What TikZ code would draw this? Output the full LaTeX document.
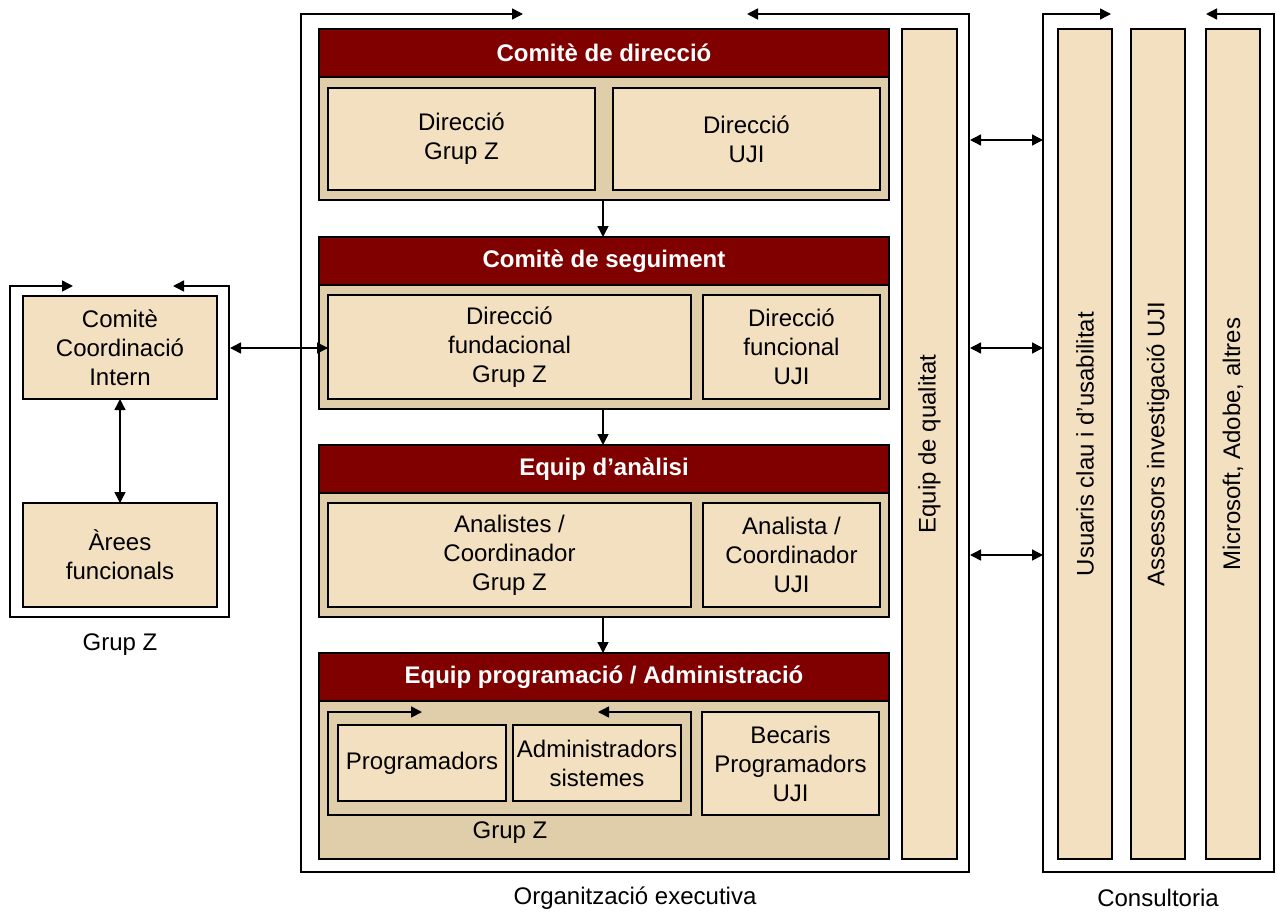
\documentclass[tikz,border=0pt]{standalone}
\usepackage{fontspec}
\setmainfont{Liberation Sans}
\usetikzlibrary{arrows.meta}
\definecolor{hdr}{HTML}{800000}
\definecolor{bodyc}{HTML}{E0CDA9}
\definecolor{innerc}{HTML}{F3E0C0}
\begin{document}
\begin{tikzpicture}[x=1pt,y=-1pt,
  font=\fontsize{24}{29}\selectfont,
  every node/.style={inner sep=0pt, outer sep=0pt},
  hdrbox/.style={draw=black, line width=1.5pt, fill=hdr, text=white,
     font=\fontsize{24}{29}\selectfont\bfseries, minimum width=570pt, minimum height=48pt},
  bodybox/.style={draw=black, line width=1.5pt, fill=bodyc, minimum width=570pt},
  ibox/.style={draw=black, line width=1.5pt, fill=innerc, align=center},
  vbox/.style={draw=black, line width=1.5pt, fill=innerc, rotate=90, minimum width=830pt},
  lbl/.style={align=center},
  tip/.tip={Triangle[length=11pt,width=11pt]},
  arr/.style={-tip, line width=1.5pt},
  dbl/.style={tip-tip, line width=1.5pt},
  brk/.style={line width=1.5pt}
]
\fill[white] (0,0) rectangle (1277,913);
\useasboundingbox (0,0) rectangle (1277,913);

% ---------- Organitzacio executiva bracket ----------
\coordinate (oeA) at (523,14);
\coordinate (oeTL) at (301,14);
\coordinate (oeBL) at (301,872);
\coordinate (oeBR) at (969,872);
\coordinate (oeTR) at (969,14);
\coordinate (oeB) at (747,14);
\draw[dbl] (oeA) -- (oeTL) -- (oeBL) -- (oeBR) -- (oeTR) -- (oeB);
\node[lbl] (oelabel) at (635,898) {Organització executiva};

% ---------- Comite de direccio ----------
\node[bodybox, minimum height=123pt] (body1) at (604,138.5) {};
\node[hdrbox] (h1) at (604,53) {Comitè de direcció};
\node[ibox, minimum width=267pt, minimum height=102pt] (dgz) at (461.5,139) {Direcció\\Grup Z};
\node[ibox, minimum width=267pt, minimum height=102pt] (duji) at (746.5,139) {Direcció\\UJI};

% ---------- Comite de seguiment ----------
\node[bodybox, minimum height=124pt] (body2) at (604,347) {};
\node[hdrbox] (h2) at (604,261) {Comitè de seguiment};
\node[ibox, minimum width=363pt, minimum height=104pt] (dfund) at (509.5,347) {Direcció\\fundacional\\Grup Z};
\node[ibox, minimum width=177pt, minimum height=104pt] (dfunc) at (791.5,347) {Direcció\\funcional\\UJI};

% ---------- Equip d'analisi ----------
\node[bodybox, minimum height=124pt] (body3) at (604,555) {};
\node[hdrbox] (h3) at (604,469) {Equip d’anàlisi};
\node[ibox, minimum width=363pt, minimum height=104pt] (angz) at (509.5,555) {Analistes /\\Coordinador\\Grup Z};
\node[ibox, minimum width=177pt, minimum height=104pt] (anuji) at (791.5,555) {Analista /\\Coordinador\\UJI};

% ---------- Equip programacio ----------
\node[bodybox, minimum height=158pt] (body4) at (604,780) {};
\node[hdrbox] (h4) at (604,677) {Equip programació / Administració};
\coordinate (gzA) at (422,712);
\coordinate (gzTL) at (328,712);
\coordinate (gzBL) at (328,815);
\coordinate (gzBR) at (691,815);
\coordinate (gzTR) at (691,712);
\coordinate (gzB) at (598,712);
\draw[dbl] (gzA) -- (gzTL) -- (gzBL) -- (gzBR) -- (gzTR) -- (gzB);
\node[ibox, minimum width=168pt, minimum height=76pt] (prog) at (422,763) {Programadors};
\node[ibox, minimum width=168pt, minimum height=76pt] (adm) at (597,763) {Administradors\\sistemes};
\node[ibox, minimum width=177pt, minimum height=103pt] (bec) at (790.5,763.5) {Becaris\\Programadors\\UJI};
\node[lbl] (gzlabel) at (510,833) {Grup Z};

% vertical flow arrows
\draw[arr] (body1.south -| 603,0) -- (h2.north -| 603,0);
\draw[arr] (body2.south -| 603,0) -- (h3.north -| 603,0);
\draw[arr] (body3.south -| 603,0) -- (h4.north -| 603,0);

% ---------- Equip de qualitat ----------
\node[vbox, minimum height=55pt] (qual) at (929.5,444) {Equip de qualitat};

% ---------- Consultoria ----------
\coordinate (coA) at (1111,14);
\coordinate (coTL) at (1043,14);
\coordinate (coBL) at (1043,872);
\coordinate (coBR) at (1274,872);
\coordinate (coTR) at (1274,14);
\coordinate (coB) at (1206,14);
\draw[dbl] (coA) -- (coTL) -- (coBL) -- (coBR) -- (coTR) -- (coB);
\node[vbox, minimum height=54pt] (usu) at (1085,444) {Usuaris clau i d’usabilitat};
\node[vbox, minimum height=54pt] (ass) at (1158,444) {Assessors investigació UJI};
\node[vbox, minimum height=54pt] (mic) at (1233,444) {Microsoft, Adobe, altres};
\node[lbl] (colabel) at (1158,898) {Consultoria};

% arrows between executive and consultoria
\coordinate (r1a) at (970,140); \coordinate (r1b) at (1043,140);
\coordinate (r2a) at (970,348); \coordinate (r2b) at (1043,348);
\coordinate (r3a) at (970,555); \coordinate (r3b) at (1043,555);
\draw[dbl] (r1a) -- (r1b);
\draw[dbl] (r2a) -- (r2b);
\draw[dbl] (r3a) -- (r3b);

% ---------- Grup Z (left) ----------
\coordinate (lzA) at (73,286);
\coordinate (lzTL) at (10,286);
\coordinate (lzBL) at (10,617);
\coordinate (lzBR) at (229,617);
\coordinate (lzTR) at (229,286);
\coordinate (lzB) at (173,286);
\draw[dbl] (lzA) -- (lzTL) -- (lzBL) -- (lzBR) -- (lzTR) -- (lzB);
\node[ibox, minimum width=194pt, minimum height=103pt] (cci) at (120,347.5) {Comitè\\Coordinació\\Intern};
\node[ibox, minimum width=194pt, minimum height=104pt] (areas) at (120,555) {Àrees\\funcionals};
\node[lbl] (lzlabel) at (120,645) {Grup Z};
\draw[dbl] (cci.south) -- (areas.north);
\coordinate (lz348) at (230,348);
\draw[dbl] (lz348) -- (dfund.west |- lz348);
\end{tikzpicture}
\end{document}
